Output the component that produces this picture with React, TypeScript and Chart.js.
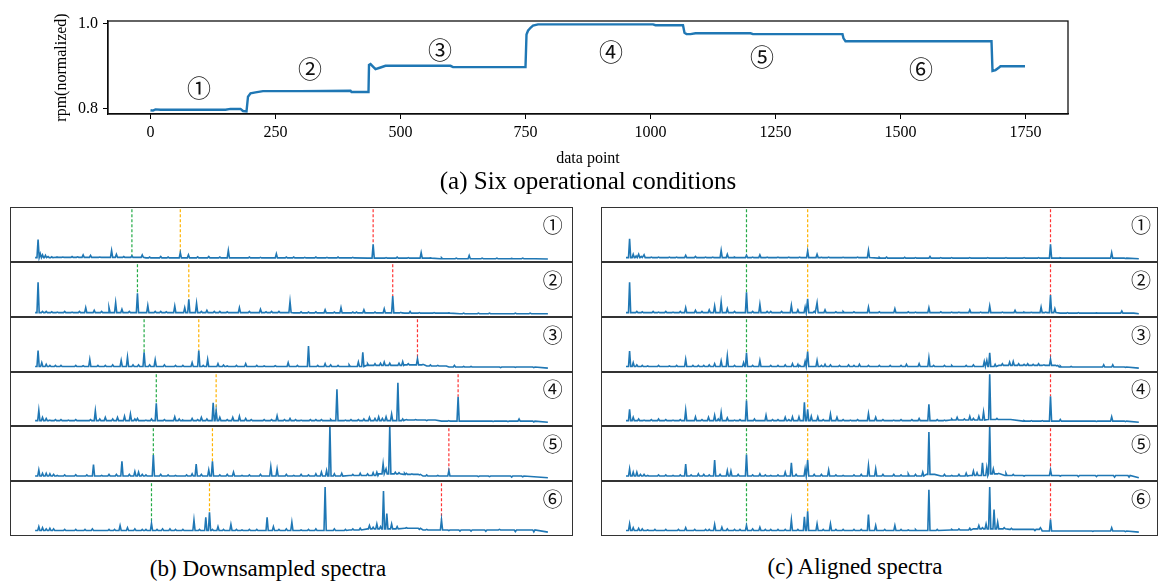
import React, { useEffect, useRef } from "react";
import { Chart, registerables } from "chart.js";
Chart.register(...registerables);

// ---------- (a) rpm curve ----------
const rpmX = [0, 5, 10, 20, 150, 160, 180, 185, 192, 195, 200, 210, 225, 300, 400, 402, 436, 437, 440, 450, 460, 470, 600, 605, 750, 752, 755, 760, 765, 775, 900, 1005, 1010, 1065, 1068, 1072, 1080, 1090, 1200, 1205, 1384, 1386, 1390, 1500, 1682, 1684, 1690, 1697, 1700, 1749];
const rpmY = [0.796, 0.795, 0.798, 0.797, 0.797, 0.799, 0.799, 0.794, 0.793, 0.828, 0.836, 0.838, 0.841, 0.841, 0.842, 0.839, 0.839, 0.903, 0.905, 0.893, 0.897, 0.901, 0.901, 0.898, 0.898, 0.975, 0.984, 0.991, 0.996, 0.999, 0.999, 0.999, 0.997, 0.997, 0.979, 0.976, 0.976, 0.978, 0.978, 0.976, 0.976, 0.966, 0.959, 0.959, 0.959, 0.889, 0.891, 0.897, 0.900, 0.900];
const rpmTicksX = [0, 250, 500, 750, 1000, 1250, 1500, 1750];
const rpmTicksY = [0.8, 1.0];
const conditionLabels = ["①", "②", "③", "④", "⑤", "⑥"];
const conditionLabelX = [97, 319, 579, 921, 1223, 1541];
const conditionLabelY = [0.849, 0.894, 0.938, 0.934, 0.922, 0.894];

// ---------- (b) downsampled spectra: [bin, height] ----------
const leftPeaks1 = [[8, 0.41], [14, 0.15], [20, 0.13], [28, 0.12], [60, 0.09], [100, 0.1], [130, 0.13], [150, 0.12], [207, 0.21], [220, 0.14], [262, 0.11], [290, 0.13], [340, 0.1], [393, 0.17], [415, 0.13], [470, 0.1], [523, 0.21], [580, 0.09], [653, 0.15], [700, 0.09], [760, 0.09], [820, 0.09], [915, 0.32], [980, 0.09], [1045, 0.17], [1100, 0.08], [1175, 0.12], [1250, 0.07], [1320, 0.07]];
const leftPeaks2 = [[8, 0.63], [20, 0.1], [60, 0.09], [100, 0.09], [137, 0.17], [160, 0.12], [200, 0.17], [218, 0.26], [235, 0.14], [277, 0.43], [305, 0.21], [340, 0.1], [378, 0.2], [405, 0.17], [416, 0.32], [437, 0.25], [465, 0.12], [500, 0.1], [553, 0.17], [610, 0.14], [640, 0.1], [690, 0.28], [740, 0.09], [785, 0.13], [828, 0.17], [860, 0.09], [890, 0.13], [945, 0.15], [968, 0.38], [1015, 0.1], [1080, 0.08], [1200, 0.07], [1300, 0.07]];
const leftPeaks3 = [[8, 0.39], [18, 0.17], [40, 0.12], [90, 0.1], [148, 0.23], [190, 0.12], [233, 0.21], [250, 0.27], [280, 0.13], [295, 0.36], [325, 0.22], [380, 0.12], [425, 0.17], [443, 0.39], [467, 0.23], [495, 0.15], [520, 0.11], [570, 0.15], [620, 0.11], [685, 0.17], [740, 0.47], [785, 0.15], [820, 0.12], [875, 0.18], [887, 0.36], [920, 0.15], [945, 0.18], [960, 0.16], [995, 0.19], [1035, 0.24], [1070, 0.13], [1135, 0.12], [1180, 0.1], [1260, 0.08]];
const leftPeaks4 = [[10, 0.29], [20, 0.16], [40, 0.11], [90, 0.11], [130, 0.1], [163, 0.28], [190, 0.16], [223, 0.16], [242, 0.18], [258, 0.22], [277, 0.14], [300, 0.11], [328, 0.42], [378, 0.17], [400, 0.11], [425, 0.14], [450, 0.16], [482, 0.43], [490, 0.28], [500, 0.16], [535, 0.16], [553, 0.18], [570, 0.14], [600, 0.1], [655, 0.19], [690, 0.14], [720, 0.11], [760, 0.12], [775, 0.12], [817, 0.68], [840, 0.11], [875, 0.12], [905, 0.16], [930, 0.17], [950, 0.17], [965, 0.22], [982, 0.8], [1005, 0.12], [1060, 0.1], [1145, 0.54], [1205, 0.09], [1310, 0.13]];
const leftPeaks5 = [[10, 0.2], [20, 0.14], [30, 0.14], [60, 0.1], [158, 0.3], [180, 0.1], [235, 0.36], [270, 0.17], [280, 0.16], [300, 0.11], [320, 0.47], [380, 0.1], [425, 0.13], [436, 0.31], [470, 0.2], [480, 0.36], [537, 0.16], [560, 0.1], [638, 0.26], [655, 0.22], [700, 0.1], [740, 0.11], [775, 0.16], [789, 0.19], [798, 1.0], [860, 0.12], [900, 0.13], [925, 0.16], [942, 0.31], [950, 0.22], [960, 1.0], [975, 0.16], [1005, 0.14], [1040, 0.11], [1120, 0.19], [1200, 0.08], [1290, 0.07]];
const leftPeaks6 = [[10, 0.17], [20, 0.15], [30, 0.13], [60, 0.1], [155, 0.13], [180, 0.1], [230, 0.19], [250, 0.15], [290, 0.12], [315, 0.23], [345, 0.13], [380, 0.12], [430, 0.29], [462, 0.34], [472, 0.43], [495, 0.17], [530, 0.21], [560, 0.11], [628, 0.34], [645, 0.17], [695, 0.25], [720, 0.11], [785, 0.89], [840, 0.12], [905, 0.19], [925, 0.22], [943, 0.82], [952, 0.41], [965, 0.22], [1005, 0.15], [1040, 0.12], [1100, 0.29], [1180, 0.09], [1257, 0.12]];
const leftNoise1 = [[35, 0.1], [45, 0.095], [75, 0.09], [115, 0.095], [175, 0.09], [240, 0.1], [310, 0.09], [360, 0.09], [440, 0.095], [500, 0.09], [610, 0.085], [680, 0.09], [730, 0.085], [790, 0.085], [860, 0.085], [950, 0.08], [1010, 0.08], [1070, 0.075], [1140, 0.07], [1210, 0.07], [1290, 0.065], [1350, 0.06]];
const leftNoise2 = [[30, 0.1], [45, 0.095], [80, 0.1], [120, 0.1], [180, 0.1], [255, 0.1], [325, 0.1], [355, 0.095], [450, 0.1], [485, 0.1], [520, 0.095], [580, 0.1], [625, 0.095], [660, 0.1], [720, 0.095], [760, 0.095], [810, 0.09], [870, 0.09], [920, 0.09], [990, 0.085], [1040, 0.08], [1120, 0.075], [1160, 0.07], [1230, 0.07], [1340, 0.07]];
const leftNoise3 = [[30, 0.14], [55, 0.12], [70, 0.12], [110, 0.12], [130, 0.115], [170, 0.12], [210, 0.13], [265, 0.13], [310, 0.13], [350, 0.13], [400, 0.12], [455, 0.12], [510, 0.125], [545, 0.12], [600, 0.12], [650, 0.115], [710, 0.12], [765, 0.12], [800, 0.13], [850, 0.13], [900, 0.15], [935, 0.16], [985, 0.16], [1010, 0.15], [1050, 0.14], [1090, 0.12], [1110, 0.11], [1160, 0.1], [1220, 0.09], [1300, 0.085], [1350, 0.08]];
const leftNoise4 = [[30, 0.14], [55, 0.12], [70, 0.12], [110, 0.12], [150, 0.12], [175, 0.13], [210, 0.13], [270, 0.13], [315, 0.13], [350, 0.12], [390, 0.13], [440, 0.12], [465, 0.13], [520, 0.12], [585, 0.12], [620, 0.12], [640, 0.12], [675, 0.12], [705, 0.12], [745, 0.12], [800, 0.12], [855, 0.12], [890, 0.13], [920, 0.14], [940, 0.14], [995, 0.13], [1030, 0.12], [1080, 0.11], [1120, 0.1], [1170, 0.09], [1240, 0.085], [1280, 0.08], [1350, 0.075]];
const leftNoise5 = [[40, 0.13], [50, 0.12], [80, 0.11], [110, 0.115], [140, 0.11], [200, 0.12], [220, 0.12], [255, 0.12], [290, 0.12], [340, 0.12], [360, 0.11], [410, 0.11], [450, 0.12], [500, 0.11], [520, 0.12], [580, 0.11], [610, 0.12], [680, 0.12], [720, 0.12], [760, 0.13], [810, 0.13], [830, 0.14], [880, 0.14], [915, 0.15], [985, 0.15], [1000, 0.14], [1020, 0.13], [1060, 0.11], [1090, 0.1], [1150, 0.09], [1230, 0.08], [1320, 0.075]];
const leftNoise6 = [[40, 0.14], [50, 0.13], [80, 0.12], [110, 0.12], [135, 0.12], [200, 0.12], [215, 0.12], [270, 0.13], [300, 0.12], [330, 0.12], [365, 0.13], [400, 0.12], [445, 0.12], [480, 0.12], [510, 0.12], [545, 0.12], [580, 0.12], [600, 0.12], [660, 0.12], [680, 0.13], [740, 0.12], [760, 0.13], [810, 0.13], [860, 0.13], [880, 0.14], [915, 0.16], [935, 0.17], [980, 0.17], [1020, 0.14], [1060, 0.12], [1120, 0.1], [1150, 0.09], [1220, 0.085], [1300, 0.08], [1350, 0.075]];
const leftBase1 = [[0, 0.08], [60, 0.085], [300, 0.075], [900, 0.07], [1100, 0.06], [1388, 0.055]];
const leftBase2 = [[0, 0.08], [200, 0.08], [700, 0.075], [1000, 0.07], [1150, 0.06], [1388, 0.06]];
const leftBase3 = [[0, 0.1], [300, 0.1], [850, 0.1], [900, 0.12], [1000, 0.13], [1060, 0.11], [1120, 0.09], [1388, 0.07]];
const leftBase4 = [[0, 0.1], [400, 0.1], [800, 0.1], [1000, 0.11], [1100, 0.09], [1388, 0.07]];
const leftBase5 = [[0, 0.09], [600, 0.09], [850, 0.1], [930, 0.13], [1000, 0.12], [1050, 0.09], [1388, 0.06]];
const leftBase6 = [[0, 0.1], [500, 0.1], [850, 0.11], [900, 0.13], [1000, 0.14], [1050, 0.11], [1388, 0.07]];
const leftGreenX = [262, 277, 295, 328, 320, 315];
const leftGreenY = [0.11, 0.43, 0.36, 0.42, 0.47, 0.23];
const leftOrangeX = [393, 416, 443, 490, 480, 472];
const leftOrangeY = [0.17, 0.32, 0.39, 0.28, 0.36, 0.43];
const leftRedX = [915, 968, 1035, 1145, 1120, 1100];
const leftRedY = [0.32, 0.38, 0.24, 0.54, 0.19, 0.29];

// ---------- (c) aligned spectra: [bin, height] ----------
const rightPeaks1 = [[10, 0.42], [20, 0.14], [35, 0.14], [50, 0.13], [90, 0.09], [165, 0.12], [192, 0.1], [220, 0.09], [263, 0.21], [280, 0.14], [333, 0.12], [370, 0.13], [420, 0.09], [502, 0.2], [528, 0.14], [560, 0.09], [670, 0.21], [720, 0.09], [840, 0.1], [900, 0.08], [1000, 0.08], [1100, 0.08], [1173, 0.32], [1250, 0.07], [1342, 0.17]];
const rightPeaks2 = [[10, 0.63], [30, 0.1], [90, 0.09], [130, 0.09], [165, 0.17], [192, 0.12], [230, 0.13], [245, 0.2], [263, 0.27], [280, 0.15], [333, 0.45], [370, 0.23], [400, 0.1], [457, 0.21], [475, 0.13], [495, 0.18], [502, 0.33], [528, 0.26], [550, 0.13], [600, 0.1], [670, 0.18], [743, 0.15], [800, 0.09], [837, 0.17], [900, 0.09], [950, 0.13], [1005, 0.2], [1075, 0.12], [1100, 0.09], [1147, 0.18], [1173, 0.4], [1185, 0.15], [1250, 0.08], [1370, 0.11]];
const rightPeaks3 = [[10, 0.38], [20, 0.17], [60, 0.11], [120, 0.11], [165, 0.23], [200, 0.12], [230, 0.13], [245, 0.15], [263, 0.2], [280, 0.29], [325, 0.17], [333, 0.35], [370, 0.21], [400, 0.12], [440, 0.13], [460, 0.15], [475, 0.14], [495, 0.19], [502, 0.37], [528, 0.21], [550, 0.14], [565, 0.13], [615, 0.13], [645, 0.14], [700, 0.12], [775, 0.14], [810, 0.15], [837, 0.26], [900, 0.12], [990, 0.19], [997, 0.21], [1005, 0.35], [1040, 0.15], [1060, 0.18], [1070, 0.19], [1110, 0.15], [1140, 0.15], [1173, 0.23], [1200, 0.11], [1280, 0.09], [1320, 0.13], [1345, 0.13]];
const rightPeaks4 = [[10, 0.31], [20, 0.16], [50, 0.11], [90, 0.13], [130, 0.11], [165, 0.29], [192, 0.17], [228, 0.16], [245, 0.2], [263, 0.25], [280, 0.15], [300, 0.11], [333, 0.47], [387, 0.2], [420, 0.12], [440, 0.16], [460, 0.17], [478, 0.17], [493, 0.44], [502, 0.31], [512, 0.18], [530, 0.17], [565, 0.22], [583, 0.16], [620, 0.11], [670, 0.23], [690, 0.16], [740, 0.11], [810, 0.14], [837, 0.4], [880, 0.11], [915, 0.16], [950, 0.18], [975, 0.18], [988, 0.26], [1005, 0.96], [1025, 0.14], [1100, 0.1], [1173, 0.55], [1200, 0.12], [1270, 0.09], [1342, 0.17]];
const rightPeaks5 = [[10, 0.22], [20, 0.16], [30, 0.16], [60, 0.1], [90, 0.11], [130, 0.1], [165, 0.31], [200, 0.13], [230, 0.11], [245, 0.38], [280, 0.19], [290, 0.18], [333, 0.48], [370, 0.13], [400, 0.1], [440, 0.16], [457, 0.33], [495, 0.22], [502, 0.38], [560, 0.2], [600, 0.1], [670, 0.28], [690, 0.22], [760, 0.11], [800, 0.12], [820, 0.16], [837, 0.89], [900, 0.1], [960, 0.18], [985, 0.33], [997, 0.25], [1005, 1.0], [1015, 0.22], [1050, 0.14], [1100, 0.09], [1173, 0.2], [1250, 0.08], [1350, 0.07]];
const rightPeaks6 = [[10, 0.22], [20, 0.15], [60, 0.11], [130, 0.1], [165, 0.15], [220, 0.12], [245, 0.21], [265, 0.16], [300, 0.12], [333, 0.19], [370, 0.16], [400, 0.12], [457, 0.29], [493, 0.35], [502, 0.45], [528, 0.22], [565, 0.22], [600, 0.12], [670, 0.39], [690, 0.19], [743, 0.19], [780, 0.11], [837, 0.84], [900, 0.12], [975, 0.19], [995, 0.22], [1005, 0.89], [1017, 0.48], [1027, 0.25], [1080, 0.12], [1145, 0.15], [1173, 0.3], [1250, 0.09], [1342, 0.15]];
const rightNoise1 = [[28, 0.11], [42, 0.1], [70, 0.09], [120, 0.09], [140, 0.09], [240, 0.09], [300, 0.09], [350, 0.09], [390, 0.09], [450, 0.09], [480, 0.09], [540, 0.085], [600, 0.085], [640, 0.09], [700, 0.085], [770, 0.085], [800, 0.08], [870, 0.08], [950, 0.08], [1050, 0.08], [1140, 0.08], [1200, 0.075], [1290, 0.07], [1380, 0.065]];
const rightNoise2 = [[30, 0.1], [45, 0.095], [75, 0.1], [110, 0.1], [150, 0.1], [210, 0.1], [300, 0.1], [350, 0.1], [390, 0.1], [430, 0.1], [520, 0.1], [580, 0.095], [630, 0.095], [700, 0.095], [780, 0.095], [870, 0.095], [920, 0.09], [980, 0.09], [1040, 0.09], [1120, 0.085], [1160, 0.09], [1220, 0.08], [1300, 0.075], [1400, 0.07]];
const rightNoise3 = [[30, 0.13], [45, 0.12], [90, 0.12], [140, 0.12], [185, 0.12], [215, 0.12], [300, 0.12], [350, 0.12], [420, 0.12], [480, 0.12], [540, 0.12], [590, 0.12], [630, 0.12], [670, 0.12], [730, 0.12], [760, 0.12], [850, 0.12], [880, 0.12], [940, 0.12], [960, 0.13], [1020, 0.14], [1085, 0.15], [1100, 0.14], [1125, 0.14], [1155, 0.13], [1190, 0.11], [1230, 0.1], [1300, 0.09], [1380, 0.085]];
const rightNoise4 = [[35, 0.13], [70, 0.12], [110, 0.12], [150, 0.12], [210, 0.12], [255, 0.13], [315, 0.12], [355, 0.13], [405, 0.12], [450, 0.12], [545, 0.12], [600, 0.12], [640, 0.12], [710, 0.12], [760, 0.12], [790, 0.12], [860, 0.12], [900, 0.13], [935, 0.13], [960, 0.14], [1040, 0.12], [1060, 0.12], [1120, 0.1], [1150, 0.1], [1220, 0.09], [1300, 0.085], [1380, 0.08]];
const rightNoise5 = [[40, 0.12], [50, 0.12], [110, 0.11], [150, 0.11], [180, 0.11], [215, 0.12], [260, 0.12], [310, 0.12], [350, 0.11], [385, 0.11], [420, 0.11], [470, 0.12], [520, 0.12], [540, 0.12], [580, 0.11], [630, 0.11], [650, 0.12], [710, 0.12], [740, 0.12], [780, 0.13], [850, 0.12], [880, 0.12], [920, 0.12], [940, 0.14], [970, 0.15], [1030, 0.14], [1070, 0.12], [1130, 0.1], [1200, 0.09], [1300, 0.08], [1390, 0.07]];
const rightNoise6 = [[35, 0.14], [45, 0.13], [80, 0.12], [110, 0.12], [145, 0.12], [190, 0.12], [230, 0.12], [280, 0.13], [315, 0.12], [350, 0.13], [385, 0.12], [420, 0.12], [440, 0.12], [475, 0.12], [545, 0.12], [580, 0.12], [630, 0.12], [650, 0.12], [715, 0.12], [760, 0.12], [800, 0.12], [860, 0.12], [920, 0.13], [950, 0.14], [985, 0.15], [1045, 0.15], [1065, 0.14], [1100, 0.12], [1130, 0.1], [1200, 0.09], [1290, 0.085], [1380, 0.08]];
const rightBase1 = [[0, 0.08], [300, 0.08], [700, 0.07], [1200, 0.07], [1417, 0.06]];
const rightBase2 = [[0, 0.08], [600, 0.08], [1100, 0.08], [1200, 0.07], [1417, 0.06]];
const rightBase3 = [[0, 0.1], [900, 0.1], [1030, 0.12], [1150, 0.12], [1200, 0.09], [1417, 0.07]];
const rightBase4 = [[0, 0.1], [800, 0.1], [900, 0.11], [1000, 0.12], [1100, 0.09], [1417, 0.07]];
const rightBase5 = [[0, 0.09], [780, 0.09], [830, 0.12], [870, 0.09], [950, 0.1], [1000, 0.13], [1050, 0.1], [1417, 0.06]];
const rightBase6 = [[0, 0.1], [800, 0.1], [900, 0.11], [960, 0.13], [1060, 0.12], [1150, 0.09], [1417, 0.07]];
const rightGreenX = [333, 333, 333, 333, 333, 333];
const rightGreenY = [0.12, 0.45, 0.35, 0.47, 0.48, 0.19];
const rightOrangeX = [502, 502, 502, 502, 502, 502];
const rightOrangeY = [0.2, 0.33, 0.37, 0.31, 0.38, 0.45];
const rightRedX = [1173, 1173, 1173, 1173, 1173, 1173];
const rightRedY = [0.32, 0.4, 0.23, 0.55, 0.2, 0.3];

const panelLabels = ["①", "②", "③", "④", "⑤", "⑥"];

// ---------- layout / style ----------
const SERIF = "Liberation Serif";
const CIRCLED = "'Noto Sans CJK JP', 'DejaVu Sans', sans-serif";
const BLUE = "#1f77b4";
const GREEN = "#22aa44";
const ORANGE = "#ffb300";
const RED = "#ff3333";
const ROW_TOPS = [207, 262, 317, 372, 426, 481, 536];

function buildSpectrum(peaks: number[][], base: number[][]) {
  const pts: { x: number; y: number }[] = base.map(([x, y]) => ({ x, y }));
  for (const [b, h] of peaks) {
    let foot = base[0][1];
    for (const [kx, ky] of base) if (kx <= b) foot = ky;
    pts.push({ x: b - 3, y: foot }, { x: b, y: h }, { x: b + 3, y: foot });
  }
  pts.sort((a, c) => a.x - c.x);
  return pts;
}

function TopChart() {
  const ref = useRef<HTMLCanvasElement>(null);
  useEffect(() => {
    const framePlugin = {
      id: "frameTop",
      afterDatasetsDraw(chart: any) {
        const { ctx, chartArea: a } = chart;
        ctx.save();
        ctx.strokeStyle = "#111";
        ctx.lineWidth = 1.3;
        ctx.strokeRect(a.left, a.top, a.right - a.left, a.bottom - a.top);
        const xs = chart.scales.x, ys = chart.scales.y;
        ctx.fillStyle = "#111";
        ctx.font = `24px ${CIRCLED}`;
        ctx.textAlign = "center";
        ctx.textBaseline = "middle";
        conditionLabels.forEach((t, i) => {
          ctx.fillText(t, xs.getPixelForValue(conditionLabelX[i]), ys.getPixelForValue(conditionLabelY[i]));
        });
        ctx.restore();
      },
    };
    const chart = new Chart(ref.current!, {
      type: "line",
      data: {
        datasets: [
          {
            data: rpmX.map((x, i) => ({ x, y: rpmY[i] })),
            borderColor: BLUE,
            borderWidth: 2.4,
            pointRadius: 0,
            tension: 0,
          },
        ],
      },
      options: {
        animation: false,
        responsive: false,
        maintainAspectRatio: false,
        layout: { padding: { left: 50, top: 21, right: 90, bottom: 0 } },
        plugins: { legend: { display: false }, tooltip: { enabled: false } },
        scales: {
          x: {
            type: "linear",
            min: -85,
            max: 1835,
            afterBuildTicks: (s: any) => {
              s.ticks = rpmTicksX.map((v) => ({ value: v }));
            },
            afterFit: (s: any) => {
              s.height = 58;
            },
            ticks: {
              font: { family: SERIF, size: 16 },
              color: "#000",
              padding: 4,
              maxRotation: 0,
              autoSkip: false,
              callback: (v: any) => String(v),
            },
            grid: { display: true, drawOnChartArea: false, drawTicks: true, tickLength: 5, color: "#000" },
            border: { display: true, color: "#000", width: 1.2 },
            title: {
              display: true,
              text: "data point",
              font: { family: SERIF, size: 16 },
              color: "#000",
              padding: { top: 0, bottom: 4 },
            },
          },
          y: {
            min: 0.787,
            max: 1.007,
            afterBuildTicks: (s: any) => {
              s.ticks = rpmTicksY.map((v) => ({ value: v }));
            },
            afterFit: (s: any) => {
              s.width = 58;
            },
            ticks: {
              font: { family: SERIF, size: 16 },
              color: "#000",
              padding: 5,
              callback: (v: any) => Number(v).toFixed(1),
            },
            grid: { display: true, drawOnChartArea: false, drawTicks: true, tickLength: 5, color: "#000" },
            border: { display: true, color: "#000", width: 1.2 },
            title: {
              display: true,
              text: "rpm(normalized)",
              font: { family: SERIF, size: 16 },
              color: "#000",
              padding: { top: 2, bottom: 2 },
            },
          },
        },
      } as any,
      plugins: [framePlugin],
    });
    return () => chart.destroy();
  }, []);
  return <canvas ref={ref} width={1158} height={172} style={{ position: "absolute", left: 0, top: 0 }} />;
}

type PanelProps = {
  left: number;
  top: number;
  width: number;
  height: number;
  peaks: number[][];
  base: number[][];
  vlines: { x: number; y: number; color: string }[];
  xMin: number;
  xMax: number;
  label: string;
  labelX: number;
};

function SpectrumPanel(p: PanelProps) {
  const ref = useRef<HTMLCanvasElement>(null);
  useEffect(() => {
    const plugin = {
      id: "panelFrame",
      afterDatasetsDraw(chart: any) {
        const { ctx, width, height } = chart;
        ctx.save();
        ctx.strokeStyle = "#333";
        ctx.lineWidth = 1;
        ctx.strokeRect(0.5, 0.5, width - 1, height - 1);
        ctx.fillStyle = "#111";
        ctx.font = `20px ${CIRCLED}`;
        ctx.textAlign = "center";
        ctx.textBaseline = "middle";
        ctx.fillText(p.label, chart.scales.x.getPixelForValue(p.labelX), chart.scales.y.getPixelForValue(0.67));
        ctx.restore();
      },
    };
    const datasets: any[] = [
      {
        data: buildSpectrum(p.peaks, p.base),
        borderColor: BLUE,
        borderWidth: 1.6,
        pointRadius: 0,
        tension: 0,
      },
    ];
    p.vlines.forEach((v) => {
      datasets.push({
        data: [
          { x: v.x, y: 1.05 },
          { x: v.x, y: v.y },
        ],
        borderColor: v.color,
        borderWidth: 1.2,
        borderDash: [3, 2],
        pointRadius: 0,
      });
    });
    const chart = new Chart(ref.current!, {
      type: "line",
      data: { datasets },
      options: {
        animation: false,
        responsive: false,
        maintainAspectRatio: false,
        layout: { padding: 0 },
        plugins: { legend: { display: false }, tooltip: { enabled: false } },
        scales: {
          x: { type: "linear", display: false, min: p.xMin, max: p.xMax },
          y: { display: false, min: 0, max: 1 },
        },
      } as any,
      plugins: [plugin],
    });
    return () => chart.destroy();
  }, []);
  return (
    <canvas
      ref={ref}
      width={p.width}
      height={p.height}
      style={{ position: "absolute", left: p.left, top: p.top }}
    />
  );
}

const leftPeaks = [leftPeaks1, leftPeaks2, leftPeaks3, leftPeaks4, leftPeaks5, leftPeaks6];
const leftNoise = [leftNoise1, leftNoise2, leftNoise3, leftNoise4, leftNoise5, leftNoise6];
const leftBases = [leftBase1, leftBase2, leftBase3, leftBase4, leftBase5, leftBase6];
const rightPeaks = [rightPeaks1, rightPeaks2, rightPeaks3, rightPeaks4, rightPeaks5, rightPeaks6];
const rightNoise = [rightNoise1, rightNoise2, rightNoise3, rightNoise4, rightNoise5, rightNoise6];
const rightBases = [rightBase1, rightBase2, rightBase3, rightBase4, rightBase5, rightBase6];

export default function App() {
  const caption = (text: string, cx: number, cy: number, size: number) => (
    <div
      style={{
        position: "absolute",
        left: cx,
        top: cy,
        transform: "translate(-50%, -50%)",
        fontFamily: "'Liberation Serif', serif",
        fontSize: size,
        lineHeight: 1,
        whiteSpace: "nowrap",
        color: "#000",
      }}
    >
      {text}
    </div>
  );
  return (
    <div style={{ position: "absolute", left: 0, top: 0, width: 1158, height: 583, background: "#fff", overflow: "hidden" }}>
      <TopChart />
      {caption("(a) Six operational conditions", 588, 180, 25)}
      {leftPeaks.map((pk, i) => (
        <SpectrumPanel
          key={"l" + i}
          left={10}
          top={ROW_TOPS[i]}
          width={563}
          height={ROW_TOPS[i + 1] - ROW_TOPS[i]}
          peaks={pk.concat(leftNoise[i])}
          base={leftBases[i]}
          vlines={[
            { x: leftGreenX[i], y: leftGreenY[i], color: GREEN },
            { x: leftOrangeX[i], y: leftOrangeY[i], color: ORANGE },
            { x: leftRedX[i], y: leftRedY[i], color: RED },
          ]}
          xMin={-68}
          xMax={1456}
          label={panelLabels[i]}
          labelX={1401}
        />
      ))}
      {rightPeaks.map((pk, i) => (
        <SpectrumPanel
          key={"r" + i}
          left={601}
          top={ROW_TOPS[i]}
          width={557}
          height={ROW_TOPS[i + 1] - ROW_TOPS[i]}
          peaks={pk.concat(rightNoise[i])}
          base={rightBases[i]}
          vlines={[
            { x: rightGreenX[i], y: rightGreenY[i], color: GREEN },
            { x: rightOrangeX[i], y: rightOrangeY[i], color: ORANGE },
            { x: rightRedX[i], y: rightRedY[i], color: RED },
          ]}
          xMin={-69}
          xMax={1470}
          label={panelLabels[i]}
          labelX={1423}
        />
      ))}
      {caption("(b) Downsampled spectra", 268, 568, 23)}
      {caption("(c) Aligned spectra", 855, 566, 23)}
    </div>
  );
}
